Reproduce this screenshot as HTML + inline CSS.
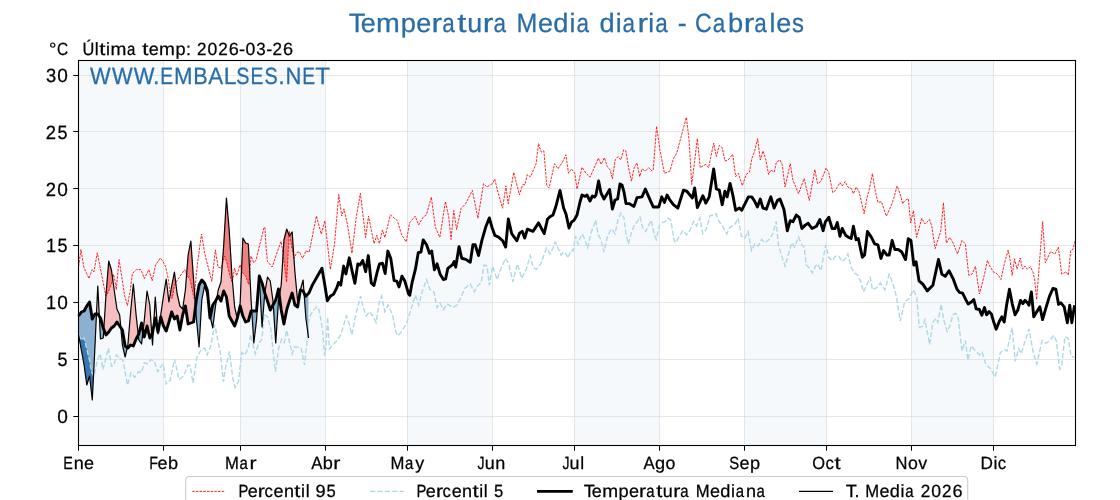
<!DOCTYPE html>
<html><head><meta charset="utf-8"><style>
html,body{margin:0;padding:0;background:#fff;overflow:hidden;}
svg{display:block;font-family:"Liberation Sans",sans-serif;text-rendering:geometricPrecision;will-change:transform;}
</style></head><body>
<svg width="1120" height="500" viewBox="0 0 1120 500">
<rect x="0" y="0" width="1120" height="500" fill="#fff"/>
<rect x="78.50" y="60.5" width="84.94" height="385.00" fill="#f5f9fc"/>
<rect x="240.16" y="60.5" width="84.94" height="385.00" fill="#f5f9fc"/>
<rect x="407.30" y="60.5" width="84.94" height="385.00" fill="#f5f9fc"/>
<rect x="574.44" y="60.5" width="84.94" height="385.00" fill="#f5f9fc"/>
<rect x="744.32" y="60.5" width="82.20" height="385.00" fill="#f5f9fc"/>
<rect x="911.46" y="60.5" width="82.20" height="385.00" fill="#f5f9fc"/>
<line x1="78.5" x2="1075.5" y1="416.5" y2="416.5" stroke="#d3d3d3" stroke-opacity="0.55" stroke-width="1"/>
<line x1="78.5" x2="1075.5" y1="359.5" y2="359.5" stroke="#d3d3d3" stroke-opacity="0.55" stroke-width="1"/>
<line x1="78.5" x2="1075.5" y1="302.5" y2="302.5" stroke="#d3d3d3" stroke-opacity="0.55" stroke-width="1"/>
<line x1="78.5" x2="1075.5" y1="245.5" y2="245.5" stroke="#d3d3d3" stroke-opacity="0.55" stroke-width="1"/>
<line x1="78.5" x2="1075.5" y1="188.5" y2="188.5" stroke="#d3d3d3" stroke-opacity="0.55" stroke-width="1"/>
<line x1="78.5" x2="1075.5" y1="131.5" y2="131.5" stroke="#d3d3d3" stroke-opacity="0.55" stroke-width="1"/>
<line x1="78.5" x2="1075.5" y1="75.5" y2="75.5" stroke="#d3d3d3" stroke-opacity="0.55" stroke-width="1"/>
<line x1="163.5" x2="163.5" y1="60.5" y2="445.5" stroke="#d3d3d3" stroke-opacity="0.55" stroke-width="1"/>
<line x1="240.5" x2="240.5" y1="60.5" y2="445.5" stroke="#d3d3d3" stroke-opacity="0.55" stroke-width="1"/>
<line x1="325.5" x2="325.5" y1="60.5" y2="445.5" stroke="#d3d3d3" stroke-opacity="0.55" stroke-width="1"/>
<line x1="407.5" x2="407.5" y1="60.5" y2="445.5" stroke="#d3d3d3" stroke-opacity="0.55" stroke-width="1"/>
<line x1="492.5" x2="492.5" y1="60.5" y2="445.5" stroke="#d3d3d3" stroke-opacity="0.55" stroke-width="1"/>
<line x1="574.5" x2="574.5" y1="60.5" y2="445.5" stroke="#d3d3d3" stroke-opacity="0.55" stroke-width="1"/>
<line x1="659.5" x2="659.5" y1="60.5" y2="445.5" stroke="#d3d3d3" stroke-opacity="0.55" stroke-width="1"/>
<line x1="744.5" x2="744.5" y1="60.5" y2="445.5" stroke="#d3d3d3" stroke-opacity="0.55" stroke-width="1"/>
<line x1="826.5" x2="826.5" y1="60.5" y2="445.5" stroke="#d3d3d3" stroke-opacity="0.55" stroke-width="1"/>
<line x1="911.5" x2="911.5" y1="60.5" y2="445.5" stroke="#d3d3d3" stroke-opacity="0.55" stroke-width="1"/>
<line x1="993.5" x2="993.5" y1="60.5" y2="445.5" stroke="#d3d3d3" stroke-opacity="0.55" stroke-width="1"/>
<g fill="#286ca8" font-size="23.54" stroke="#286ca8" stroke-width="0.25"><text transform="translate(100.27,83.90) scale(0.931,1)" x="-11.12">W</text><text transform="translate(122.24,83.90) scale(0.931,1)" x="-11.12">W</text><text transform="translate(144.21,83.90) scale(0.931,1)" x="-11.12">W</text><text transform="translate(156.19,83.90) scale(1.000,1)" x="-3.27">.</text><text transform="translate(167.12,83.90) scale(0.818,1)" x="-8.33">E</text><text transform="translate(183.35,83.90) scale(0.944,1)" x="-9.80">M</text><text transform="translate(200.85,83.90) scale(0.917,1)" x="-8.21">B</text><text transform="translate(215.76,83.90) scale(0.951,1)" x="-7.86">A</text><text transform="translate(230.60,83.90) scale(0.976,1)" x="-7.12">L</text><text transform="translate(242.93,83.90) scale(0.842,1)" x="-7.86">S</text><text transform="translate(257.26,83.90) scale(0.818,1)" x="-8.33">E</text><text transform="translate(271.07,83.90) scale(0.842,1)" x="-7.86">S</text><text transform="translate(281.54,83.90) scale(1.000,1)" x="-3.27">.</text><text transform="translate(293.38,83.90) scale(0.935,1)" x="-8.51">N</text><text transform="translate(309.08,83.90) scale(0.818,1)" x="-8.33">E</text><text transform="translate(322.54,83.90) scale(1.031,1)" x="-7.18">T</text></g>
<polygon points="78.60,316.00 81.10,312.35 81.35,312.00 83.85,311.08 84.10,310.96 86.60,306.39 89.35,302.29 89.60,302.30 92.10,317.82 92.35,318.89 94.85,314.32 95.10,314.00 96.35,314.00 96.60,311.11 97.60,289.56 97.85,287.64 99.10,311.84 99.35,316.32 100.35,317.78 100.60,318.35 103.10,327.48 103.35,328.28 103.60,328.92 103.85,328.44 105.85,297.03 106.10,293.50 108.60,262.45 108.85,261.44 111.35,269.66 111.60,271.06 114.10,289.32 116.85,308.44 117.10,309.37 119.60,314.85 119.85,316.99 120.60,325.20 120.85,327.73 122.35,329.92 122.60,331.13 125.10,345.74 125.35,346.15 127.10,347.43 127.35,347.33 127.85,345.14 128.10,342.38 130.60,312.25 133.35,284.08 133.60,286.74 136.10,315.04 138.10,333.30 138.35,334.88 138.85,333.94 141.35,323.89 141.60,323.14 142.85,329.54 143.10,330.61 144.10,321.84 144.35,319.58 146.85,293.10 147.10,291.27 149.60,304.05 149.85,305.94 151.60,331.51 151.85,334.23 152.35,333.32 152.60,332.58 153.35,328.47 153.60,326.13 155.10,299.83 155.35,298.20 157.60,328.60 157.85,331.24 158.10,331.45 159.35,324.60 163.35,296.87 163.60,295.23 166.10,279.70 166.35,280.15 168.85,301.15 169.10,301.13 171.60,286.52 174.35,272.39 174.60,273.39 177.10,293.48 177.35,294.81 179.85,305.77 180.10,306.22 182.60,308.96 182.85,307.55 185.35,290.20 185.60,287.17 188.10,255.21 188.35,253.81 190.85,241.02 191.10,244.50 193.60,280.11 195.35,304.40 195.60,305.87 196.10,301.85 196.35,299.89 198.85,286.20 199.10,284.94 201.60,280.38 201.85,280.05 204.35,282.79 204.60,283.14 207.10,289.54 207.35,290.70 209.10,308.59 209.35,310.86 209.85,314.70 210.10,316.35 210.35,316.43 212.60,305.75 212.85,304.87 215.35,301.21 216.60,298.98 216.85,298.09 218.10,290.78 218.35,289.66 220.85,282.35 221.10,280.26 223.60,246.48 223.85,242.59 226.35,199.67 226.60,199.79 229.10,229.00 229.35,232.71 231.85,273.80 232.10,277.07 234.60,306.29 234.85,307.83 237.10,317.69 237.35,318.14 237.85,316.02 238.10,314.90 240.10,303.22 240.35,297.94 242.85,238.59 243.10,238.41 245.60,242.98 248.35,244.00 250.85,295.12 251.10,300.18 251.60,308.03 251.85,311.00 256.35,311.00 256.60,310.54 259.10,278.58 259.35,276.12 261.85,282.51 262.10,283.22 264.60,292.35 264.85,292.58 267.35,277.97 267.60,277.12 270.10,280.78 270.35,281.70 272.85,299.96 273.10,302.66 273.35,304.35 275.60,300.24 275.85,299.52 278.35,289.47 278.60,290.02 279.35,295.77 281.10,285.62 281.35,282.62 283.85,241.54 284.10,239.37 286.60,229.33 286.85,229.43 289.35,235.82 289.60,235.74 292.10,232.08 292.35,234.82 294.85,271.34 295.10,274.17 297.60,300.65 297.85,300.13 300.35,290.08 303.10,280.03 303.35,283.35 303.85,290.29 304.10,293.12 305.60,296.33 308.35,293.58 308.35,293.58 305.60,296.33 303.35,291.52 303.10,291.00 300.60,290.08 300.35,290.13 297.85,305.65 297.60,306.98 295.10,305.15 294.85,304.80 292.35,293.85 292.10,293.17 289.60,300.47 286.85,309.45 286.60,310.42 284.10,323.20 283.85,323.52 281.35,310.74 281.10,309.19 278.60,290.02 278.35,289.47 275.85,299.52 275.60,300.24 270.35,309.82 270.10,309.49 267.60,301.28 264.85,293.21 262.10,283.22 259.35,276.12 259.10,278.58 256.60,310.54 256.35,311.00 251.10,311.00 248.35,321.00 245.85,321.91 245.60,321.97 243.10,316.49 242.85,315.91 240.35,306.78 240.10,306.16 237.60,317.12 237.35,318.14 234.85,325.45 234.60,325.89 229.35,316.30 229.10,315.41 226.60,298.06 226.35,296.79 223.85,291.31 223.60,291.40 221.10,300.53 220.85,300.78 218.35,296.21 218.10,296.24 215.60,300.81 212.85,304.87 212.60,305.75 210.10,317.62 209.85,316.26 207.35,290.70 207.10,289.54 204.60,283.14 204.35,282.79 201.85,280.05 201.60,280.38 199.10,284.94 198.85,286.20 196.35,299.89 193.60,321.94 188.35,323.91 188.10,323.89 185.60,307.46 185.35,306.09 182.85,314.31 182.60,315.22 180.10,328.92 179.85,329.73 177.35,316.95 177.10,316.07 174.60,318.81 174.35,318.80 171.85,312.41 171.60,312.33 169.10,321.46 166.35,330.55 166.10,330.79 163.60,326.23 163.35,325.59 160.85,317.37 160.60,317.75 158.10,331.45 157.85,331.24 155.35,318.45 155.10,318.89 152.60,332.58 152.35,333.32 149.85,337.88 149.60,337.19 147.10,326.23 146.85,326.79 144.35,336.84 144.10,335.93 141.60,323.14 141.35,323.89 138.85,333.94 136.10,338.99 133.60,345.38 133.35,346.00 130.85,345.08 130.60,345.02 128.10,347.76 127.85,347.98 125.35,346.15 125.10,345.74 122.60,331.13 122.35,329.92 117.10,322.25 116.85,322.12 114.35,325.77 114.10,326.07 111.60,327.89 111.35,328.15 108.85,331.81 106.10,334.87 105.85,334.67 103.35,328.28 103.10,327.48 100.60,318.35 100.35,317.78 97.85,314.12 97.60,314.00 95.10,314.00 94.85,314.32 92.35,318.89 92.10,317.82 89.60,302.30 89.35,302.29 86.85,305.95 84.10,310.96 81.35,312.00 78.60,316.00" fill="#f6bebe" stroke="none"/>
<polygon points="78.60,316.00 81.10,312.35 81.35,312.00 83.85,311.08 84.10,310.96 86.60,306.39 89.35,302.29 89.60,302.30 92.10,317.82 92.35,318.89 94.85,314.32 95.10,314.00 97.60,314.00 97.85,314.12 100.35,317.78 100.60,318.35 103.10,327.48 103.35,328.28 105.85,334.67 106.10,334.87 108.60,332.13 111.35,328.15 114.10,326.07 116.85,322.12 117.10,322.25 122.35,329.92 122.60,331.13 125.10,345.74 125.35,346.15 127.85,347.98 130.60,345.02 133.35,346.00 136.10,338.99 138.60,334.43 138.85,333.94 141.35,323.89 141.60,323.14 144.10,335.93 144.35,336.84 146.85,326.79 147.10,326.23 149.60,337.19 149.85,337.88 152.35,333.32 152.60,332.58 155.10,318.89 155.35,318.45 157.85,331.24 158.10,331.45 160.60,317.75 160.85,317.37 163.35,325.59 163.60,326.23 166.10,330.79 166.35,330.55 168.85,322.33 171.60,312.33 171.85,312.41 174.35,318.80 174.60,318.81 177.10,316.07 177.35,316.95 179.85,329.73 180.10,328.92 182.60,315.22 182.85,314.31 185.35,306.09 185.60,307.46 188.10,323.89 188.35,323.91 193.35,322.09 193.60,321.94 196.10,301.85 196.35,299.89 198.85,286.20 199.10,284.94 201.60,280.38 201.85,280.05 204.35,282.79 204.60,283.14 207.10,289.54 207.35,290.70 209.85,316.26 210.10,317.62 212.60,305.75 212.85,304.87 215.35,301.21 218.10,296.24 218.35,296.21 220.85,300.78 221.10,300.53 223.60,291.40 223.85,291.31 226.35,296.79 226.60,298.06 229.10,315.41 229.35,316.30 234.60,325.89 234.85,325.45 237.35,318.14 240.10,306.16 240.35,306.78 242.85,315.91 245.60,321.97 248.35,321.00 250.85,311.87 251.10,311.00 256.35,311.00 256.60,310.54 259.10,278.58 259.35,276.12 261.85,282.51 262.10,283.22 264.60,292.35 264.85,293.21 267.35,300.52 270.10,309.49 270.35,309.82 275.60,300.24 275.85,299.52 278.35,289.47 278.60,290.02 281.10,309.19 281.35,310.74 283.85,323.52 284.10,323.20 286.60,310.42 286.85,309.45 289.35,301.23 292.10,293.17 292.35,293.85 294.85,304.80 295.10,305.15 297.60,306.98 297.85,305.65 300.35,290.13 300.60,290.08 303.10,291.00 305.60,296.33 308.35,293.58 308.35,336.29 305.85,318.02 304.10,293.76 303.85,292.58 303.10,291.00 300.60,290.08 300.35,290.13 297.85,305.65 297.60,306.98 295.10,305.15 294.85,304.80 292.35,293.85 292.10,293.17 289.60,300.47 286.85,309.45 286.60,310.42 284.10,323.20 283.85,323.52 281.35,310.74 281.10,309.19 279.60,297.69 279.35,295.84 278.60,300.23 278.35,302.80 275.85,341.15 275.60,341.01 273.35,306.50 273.10,304.80 270.35,309.82 270.10,309.49 267.60,301.28 264.85,293.21 264.60,295.21 262.10,326.26 261.85,323.60 259.35,278.86 259.10,281.10 256.60,319.45 256.35,321.80 253.85,342.80 253.60,339.44 251.85,311.96 251.60,311.00 251.10,311.00 248.35,321.00 245.85,321.91 245.60,321.97 243.10,316.49 242.85,315.91 240.35,306.78 240.10,306.16 238.10,314.93 237.60,317.82 237.35,318.79 237.10,318.87 234.85,325.45 234.60,325.89 229.35,316.30 229.10,315.41 226.60,298.06 226.35,296.79 223.85,291.31 223.60,291.40 221.10,300.53 220.85,300.78 218.35,296.21 218.10,296.24 216.85,298.53 216.60,299.55 215.60,305.39 215.35,307.17 212.85,327.26 212.60,327.31 210.35,317.45 210.10,317.62 209.85,316.26 209.35,311.15 209.10,308.95 207.35,295.52 207.10,294.40 204.60,286.18 204.35,286.99 201.85,299.78 201.60,303.54 199.10,346.45 198.85,344.69 196.35,318.21 195.60,307.87 195.35,307.88 193.60,321.94 188.35,323.91 188.10,323.89 185.60,307.46 185.35,306.09 182.85,314.31 182.60,315.22 180.10,328.92 179.85,329.73 177.35,316.95 177.10,316.07 174.60,318.81 174.35,318.80 171.85,312.41 171.60,312.33 169.10,321.46 166.35,330.55 166.10,330.79 163.60,326.23 163.35,325.59 160.85,317.37 160.60,317.75 159.60,323.23 159.35,324.63 158.10,333.30 157.85,331.98 157.60,329.96 155.35,318.45 155.10,318.89 153.60,327.10 153.35,330.51 152.60,343.66 152.35,342.46 151.85,335.16 151.60,334.69 149.85,337.88 149.60,337.19 147.10,326.23 146.85,326.79 144.35,336.84 144.10,335.93 143.10,330.81 142.85,332.80 141.60,343.75 141.35,343.68 138.85,340.02 138.60,337.86 138.35,335.58 138.10,335.34 136.10,338.99 133.60,345.38 133.35,346.00 130.85,345.08 130.60,345.02 128.10,347.76 127.85,347.98 127.35,347.61 127.10,348.43 125.35,356.10 125.10,356.80 122.60,345.85 122.35,344.38 120.85,327.94 120.60,327.36 117.10,322.25 116.85,322.12 114.35,325.77 114.10,326.07 111.60,327.89 111.35,328.15 108.85,331.81 106.10,334.87 105.85,334.67 103.85,329.56 103.60,332.37 103.35,336.29 103.10,338.05 100.60,338.96 100.35,336.03 99.35,316.67 99.10,315.95 97.85,314.12 97.60,314.00 96.60,314.00 96.35,316.50 95.10,343.44 94.85,348.57 92.35,398.79 92.10,398.34 89.60,376.42 89.35,376.66 86.85,384.88 86.60,383.44 84.10,365.18 78.60,335.00" fill="#8cb0d0" stroke="none"/>
<polygon points="78.60,266.25 78.85,265.03 80.85,250.03 81.10,250.50 83.60,265.89 83.85,267.39 88.85,278.26 89.10,278.26 92.10,269.69 92.35,269.88 93.85,271.76 94.10,270.83 97.10,253.83 97.35,253.09 105.60,294.98 105.85,295.86 106.10,293.50 108.60,262.45 108.85,261.44 111.35,269.66 111.60,271.06 112.60,278.36 112.85,277.74 113.35,274.99 113.60,274.79 114.85,280.42 116.10,288.48 116.35,288.89 118.85,262.02 119.10,259.73 124.60,295.48 124.85,296.57 127.35,305.32 127.60,305.01 130.10,291.26 130.35,289.68 132.35,273.68 132.60,273.33 135.85,270.08 136.35,269.71 136.60,269.61 140.85,269.61 141.10,269.97 144.10,277.97 144.35,278.52 148.60,270.02 148.85,269.76 152.10,280.59 152.35,279.94 155.35,265.94 155.60,265.01 160.10,258.35 160.35,258.05 162.85,261.39 163.10,261.77 165.60,266.77 165.85,267.59 168.35,279.25 168.60,280.98 170.10,292.98 170.35,293.83 171.60,286.52 174.35,272.39 174.60,273.39 175.60,281.43 175.85,282.82 176.60,281.35 180.10,276.10 184.60,269.80 184.85,270.20 186.60,274.28 186.85,271.19 188.10,255.21 188.35,253.81 190.85,241.02 191.10,244.50 193.60,280.11 194.60,293.99 194.85,291.97 196.10,276.00 198.10,259.06 198.35,257.11 201.35,235.11 201.60,234.60 204.60,252.60 204.85,254.00 208.10,267.00 211.60,280.39 211.85,281.23 215.35,249.95 215.60,251.39 217.85,266.02 218.10,267.04 221.10,268.04 221.35,267.93 222.10,265.18 222.35,263.37 223.60,246.48 223.85,242.59 226.35,199.67 226.60,199.79 229.10,229.00 229.35,232.71 231.85,273.80 232.10,277.07 232.35,279.99 232.60,280.48 234.35,269.11 234.60,268.44 236.60,275.44 236.85,275.32 239.85,265.32 240.10,265.14 241.35,269.52 241.60,268.26 242.85,238.59 243.10,238.41 245.60,242.98 248.35,244.00 249.60,269.56 249.85,271.03 250.85,258.03 251.10,256.24 253.60,262.49 253.85,262.42 255.85,260.60 256.10,260.25 257.35,254.40 264.10,227.33 264.35,227.21 264.85,227.66 265.10,229.80 265.60,239.80 265.85,244.35 267.35,260.85 267.60,261.63 272.10,266.88 272.35,266.55 276.10,255.30 280.85,241.82 281.10,241.95 282.60,250.20 282.85,252.20 283.10,253.86 283.85,241.54 284.10,239.37 286.60,229.33 286.85,229.43 288.85,234.54 289.10,235.14 289.35,231.21 289.85,234.67 290.10,235.01 292.10,232.08 292.35,234.82 293.85,256.73 294.10,257.67 296.85,252.86 297.10,252.57 299.35,251.82 299.60,252.20 302.60,258.20 304.85,253.70 305.10,252.98 305.60,250.90 308.35,251.76 308.35,251.76 305.85,250.93 305.60,250.90 305.10,252.98 304.85,253.70 302.60,258.20 299.60,252.20 299.35,251.82 297.10,252.57 296.85,252.86 293.85,258.11 293.60,257.13 291.60,246.47 291.35,245.05 289.35,231.21 289.10,235.14 286.60,282.20 282.60,250.20 281.10,241.95 280.85,241.82 276.35,254.57 272.35,266.55 272.10,266.88 267.60,261.63 267.35,260.85 265.85,244.35 265.60,239.80 265.10,229.80 264.85,227.66 264.35,227.21 264.10,227.33 257.60,253.33 257.35,254.40 256.10,260.25 255.85,260.60 253.85,262.42 253.60,262.49 251.10,256.24 250.85,258.03 248.85,284.03 248.60,284.06 245.60,276.06 245.35,275.65 242.35,272.65 242.10,272.14 240.10,265.14 239.85,265.32 236.85,275.32 236.60,275.44 234.60,268.44 234.35,269.11 232.35,282.11 232.10,281.90 230.10,276.89 226.85,262.81 224.85,256.75 224.60,256.02 221.35,267.93 221.10,268.04 218.10,267.04 217.85,266.02 215.60,251.39 215.35,249.95 211.85,281.23 211.60,280.39 208.10,267.00 204.85,254.00 204.60,252.60 201.60,234.60 201.35,235.11 198.35,257.11 198.10,259.06 196.10,276.00 194.35,298.36 194.10,298.18 192.60,292.00 190.10,279.86 189.85,279.37 187.35,276.03 184.85,270.20 184.60,269.80 180.10,276.10 176.60,281.35 174.85,284.82 174.60,285.74 172.10,298.24 171.85,298.09 170.35,294.34 170.10,292.98 168.60,280.98 168.35,279.25 165.85,267.59 165.60,266.77 163.10,261.77 160.35,258.05 155.60,265.01 155.35,265.94 152.35,279.94 152.10,280.59 148.85,269.76 148.60,270.02 144.35,278.52 144.10,277.97 141.10,269.97 140.85,269.61 136.60,269.61 136.35,269.71 135.85,270.08 132.60,273.33 132.35,273.68 130.35,289.68 130.10,291.26 127.60,305.01 127.35,305.32 124.85,296.57 124.60,295.48 119.10,259.73 118.85,262.02 116.35,288.89 116.10,288.48 115.10,281.98 114.85,280.42 113.60,274.79 113.35,274.99 112.10,281.87 108.10,292.58 107.85,293.20 105.85,295.86 105.60,294.98 97.60,254.31 97.35,253.09 97.10,253.83 94.10,270.83 93.85,271.76 92.35,269.88 92.10,269.69 89.10,278.26 88.85,278.26 83.85,267.39 81.10,250.50 80.85,250.03 78.85,265.03 78.60,266.25" fill="#ee8080" stroke="none"/>
<polygon points="78.60,334.50 81.10,339.59 81.35,339.97 84.10,338.07 84.35,338.64 86.85,349.36 89.35,359.40 89.60,360.57 91.60,372.00 93.85,376.11 94.10,375.27 97.10,361.33 97.35,360.33 100.10,353.98 100.35,354.68 102.85,369.26 103.10,368.63 105.60,359.25 108.35,348.67 108.60,348.89 111.35,365.81 111.60,366.00 113.85,365.06 114.10,364.89 116.10,355.89 116.35,354.91 119.60,358.16 122.85,360.36 123.10,360.80 127.35,384.17 127.60,384.84 130.85,372.93 131.10,373.06 134.60,377.18 134.85,377.07 138.60,371.86 138.85,371.74 141.35,372.78 141.60,372.15 144.10,363.50 144.35,362.73 147.10,363.79 147.35,363.71 150.85,359.59 151.10,359.40 154.35,361.57 154.60,362.19 157.60,371.19 157.85,371.54 161.10,366.13 163.35,363.86 163.60,365.60 165.85,382.48 166.10,383.97 169.85,380.84 170.10,380.58 174.35,360.39 174.60,359.52 178.85,378.64 179.10,379.49 183.35,376.30 183.60,375.98 187.85,365.36 188.10,365.01 190.10,366.01 190.35,366.73 192.85,382.35 193.10,381.83 196.85,357.88 197.10,356.89 201.35,349.45 201.60,349.23 204.60,348.23 204.85,348.29 206.85,354.29 207.10,354.76 210.35,347.18 210.60,346.09 214.85,324.84 215.10,325.79 217.35,337.97 217.60,339.32 220.35,353.07 220.60,354.83 223.35,381.27 223.60,380.47 225.60,367.47 225.85,366.35 229.35,351.93 229.60,352.72 232.60,376.72 232.85,378.56 234.85,386.56 235.10,387.28 238.35,381.87 238.60,380.12 241.60,354.12 241.85,352.70 245.10,354.86 245.35,354.37 248.35,347.37 248.60,346.44 250.60,335.44 250.85,335.23 255.10,353.29 255.35,353.35 258.35,344.35 258.60,343.65 261.85,339.31 262.10,337.35 264.10,315.35 264.35,314.68 267.35,316.68 267.60,317.05 270.85,328.97 271.10,331.20 273.10,351.20 275.35,371.48 275.60,370.09 278.60,349.09 278.85,347.80 281.60,339.34 281.85,339.46 284.10,342.27 284.35,342.47 286.35,331.47 286.60,330.35 289.85,343.35 292.10,353.43 292.35,353.23 294.35,347.23 294.60,347.04 297.60,347.04 301.10,348.15 301.35,349.24 304.35,364.24 304.60,363.96 306.60,344.96 306.85,342.36 308.35,325.11 308.35,336.29 307.85,332.63 307.60,333.73 306.85,342.36 306.60,344.96 304.60,363.96 304.35,364.24 301.35,349.24 301.10,348.15 297.85,347.07 294.60,347.04 294.35,347.23 292.35,353.23 292.10,353.43 290.10,344.43 289.85,343.35 286.60,330.35 286.35,331.47 284.35,342.47 284.10,342.27 281.85,339.46 281.60,339.34 278.85,347.80 278.60,349.09 275.60,370.09 275.35,371.48 273.35,353.48 273.10,351.20 271.10,331.20 270.85,328.97 267.60,317.05 267.35,316.68 264.35,314.68 264.10,315.35 262.10,337.35 261.85,339.31 258.60,343.65 255.35,353.35 255.10,353.29 250.85,335.23 250.60,335.44 248.60,346.44 248.35,347.37 245.35,354.37 245.10,354.86 241.85,352.70 241.60,354.12 238.60,380.12 238.35,381.87 235.10,387.28 234.85,386.56 232.85,378.56 232.60,376.72 229.60,352.72 229.35,351.93 225.85,366.35 225.60,367.47 223.60,380.47 223.35,381.27 220.60,354.83 220.35,353.07 217.60,339.32 215.10,325.79 214.85,324.84 210.60,346.09 210.35,347.18 207.10,354.76 206.85,354.29 204.85,348.29 204.60,348.23 201.60,349.23 201.35,349.45 197.10,356.89 196.85,357.88 193.10,381.83 192.85,382.35 190.35,366.73 190.10,366.01 188.10,365.01 187.85,365.36 183.60,375.98 183.35,376.30 179.10,379.49 178.85,378.64 174.60,359.52 174.35,360.39 170.10,380.58 166.10,383.97 165.85,382.48 163.60,365.60 163.35,363.86 161.35,365.86 161.10,366.13 157.85,371.54 157.60,371.19 154.60,362.19 154.35,361.57 151.10,359.40 150.85,359.59 147.35,363.71 147.10,363.79 144.35,362.73 144.10,363.50 141.60,372.15 141.35,372.78 138.85,371.74 138.60,371.86 134.85,377.07 134.60,377.18 131.10,373.06 130.85,372.93 127.60,384.84 127.35,384.17 123.10,360.80 122.85,360.36 119.85,358.36 116.35,354.91 116.10,355.89 114.10,364.89 111.60,366.00 111.35,365.81 108.60,348.89 108.35,348.67 105.60,359.25 103.10,368.63 102.85,369.26 100.35,354.68 100.10,353.98 97.35,360.33 97.10,361.33 94.10,375.27 93.85,376.11 93.60,375.65 93.35,378.70 92.35,398.79 92.10,398.34 89.60,376.42 89.35,376.66 86.85,384.88 86.60,383.44 84.10,365.18 78.60,335.00" fill="#3878b2" stroke="none"/>
<polyline points="78.60,334.50 81.30,340.00 84.20,338.00 87.00,350.00 89.50,360.00 91.60,372.00 93.90,376.20 97.28,360.48 100.19,353.76 102.88,369.44 105.57,359.36 108.48,348.16 111.39,366.08 114.08,364.96 116.32,354.88 119.68,358.24 123.04,360.48 127.52,385.13 130.88,372.80 134.69,377.28 138.72,371.68 141.41,372.80 144.32,362.72 147.24,363.84 151.04,359.36 154.41,361.60 157.77,371.68 161.13,366.08 163.37,363.84 166.05,384.01 170.09,380.65 174.57,359.36 179.05,379.53 183.53,376.16 188.01,364.96 190.25,366.08 192.94,382.89 196.97,357.12 201.45,349.28 204.81,348.16 207.05,354.88 210.41,347.04 214.89,324.64 217.58,339.20 220.49,353.76 223.40,381.77 225.64,367.20 229.45,351.52 232.81,378.41 235.05,387.37 238.41,381.77 241.77,352.64 245.13,354.88 248.49,347.04 250.73,334.72 255.21,353.76 258.57,343.68 261.93,339.20 264.17,314.56 267.53,316.80 270.89,329.12 273.13,351.52 275.37,371.68 278.73,348.16 281.65,339.20 284.33,342.56 286.57,330.24 289.93,343.68 292.17,353.76 294.41,347.04 297.77,347.04 301.13,348.16 304.49,364.96 306.73,343.68 308.97,317.92 313.46,310.08 316.82,306.72 319.06,310.08 322.42,329.12 324.66,356.00 326.00,347.04 327.61,317.06 329.38,348.99 332.02,345.69 336.42,341.28 340.83,334.68 346.33,315.96 349.19,323.67 351.83,334.68 356.24,312.66 360.64,296.15 362.84,306.06 366.15,315.96 369.45,311.56 372.75,315.96 376.06,322.57 379.36,301.65 381.56,296.15 384.86,311.56 388.17,304.95 392.57,314.86 395.87,332.48 398.07,335.78 402.48,330.28 406.88,322.57 410.89,309.77 415.37,295.21 418.73,305.29 422.09,291.85 426.57,279.53 429.93,289.61 433.96,291.85 437.10,307.53 440.01,303.05 443.37,309.77 446.73,304.17 449.64,305.29 452.33,307.53 456.81,305.29 460.84,297.45 464.65,288.49 470.25,284.01 474.28,291.85 478.09,285.13 481.00,282.89 484.14,264.96 487.05,266.08 489.29,285.13 492.65,266.08 497.13,279.53 500.49,269.44 505.65,258.24 508.78,263.84 512.81,281.77 517.29,263.84 521.77,278.41 526.25,269.44 530.29,255.56 532.97,267.20 536.34,269.44 540.82,263.84 546.42,248.16 550.00,253.76 553.00,248.00 555.00,242.00 558.00,248.00 561.00,255.00 563.60,252.00 566.00,254.00 568.00,258.00 571.00,250.00 573.00,251.00 575.60,236.00 578.00,244.00 580.00,238.00 582.40,234.00 585.00,240.00 587.60,248.00 591.00,233.00 593.60,226.00 595.60,220.00 598.00,234.00 601.00,240.00 604.00,252.00 607.00,238.00 610.00,231.00 612.00,229.00 615.00,234.00 618.00,220.00 621.00,213.00 624.00,218.00 626.00,234.00 628.40,244.00 631.00,234.00 634.00,226.00 637.00,222.00 640.00,217.00 642.84,228.16 645.75,231.52 648.89,224.80 651.13,220.32 654.04,233.76 656.28,239.36 659.64,224.80 662.33,222.56 665.24,221.44 668.15,218.08 670.84,220.32 674.20,240.48 675.77,242.72 678.68,237.12 683.16,230.40 686.52,234.88 689.88,230.40 693.69,221.44 696.60,225.92 699.96,218.08 702.65,233.76 706.24,229.28 710.04,215.84 713.41,214.72 716.09,213.60 719.01,221.44 722.37,225.92 726.85,233.76 730.21,227.04 734.69,224.80 738.05,218.08 741.41,236.00 744.77,238.24 748.13,231.52 751.49,250.56 754.85,243.84 758.21,246.08 761.57,239.36 764.93,242.72 769.41,239.36 772.77,233.76 776.13,221.44 778.37,244.96 781.73,256.16 785.09,266.25 788.45,253.92 791.81,242.72 794.50,247.20 798.53,237.12 801.89,244.96 804.13,247.20 806.37,265.13 809.73,268.49 812.42,272.97 815.33,266.25 817.57,264.01 820.93,270.73 823.17,258.41 825.86,244.96 828.77,257.28 832.13,260.65 835.49,256.16 838.85,256.16 842.21,261.77 845.57,258.41 847.81,253.92 851.17,267.37 854.53,272.97 857.89,275.21 861.25,283.05 863.49,292.01 870.22,277.45 872.46,289.77 876.94,287.53 880.30,283.05 885.00,289.77 889.13,274.30 892.51,282.10 896.41,296.41 900.31,321.11 904.73,301.61 908.89,299.01 913.31,289.91 916.69,296.41 919.29,327.61 922.41,326.31 925.01,319.81 929.69,344.52 932.81,322.41 935.93,318.51 938.01,322.41 941.13,304.21 943.74,319.81 947.12,331.51 949.72,326.31 953.10,314.61 955.70,313.31 958.30,318.51 961.94,351.02 965.32,340.61 967.92,360.12 971.30,345.82 975.72,351.02 979.62,354.92 982.22,352.32 986.12,365.32 990.02,367.92 995.22,377.02 1000.43,352.32 1004.33,349.72 1006.93,351.02 1012.13,327.61 1015.25,361.42 1018.63,348.42 1021.23,353.62 1024.35,343.22 1029.03,328.91 1032.93,351.02 1036.83,364.02 1042.03,340.61 1045.93,343.22 1049.83,340.61 1053.74,335.41 1056.34,340.61 1059.72,369.22 1061.54,366.62 1064.92,336.71 1068.04,338.01 1071.16,356.22 1074.54,357.52" fill="none" stroke="#add8e6" stroke-width="1.39" stroke-dasharray="5.14,2.22"/>
<polyline points="78.69,266.25 80.93,249.44 83.84,267.37 88.99,278.57 92.13,269.61 93.92,271.85 97.28,252.80 97.40,253.29 105.79,295.94 107.89,293.15 109.99,287.55 112.08,281.96 113.48,274.27 114.88,280.56 116.28,289.65 119.08,259.58 121.87,277.76 124.67,295.94 127.47,305.73 130.27,290.35 132.36,273.57 135.86,270.07 136.48,269.61 140.96,269.61 144.32,278.57 148.80,269.61 152.16,280.81 155.53,265.13 160.32,258.02 163.03,261.62 165.73,267.03 168.43,279.64 170.23,294.05 172.04,298.56 174.74,285.05 176.54,281.44 180.14,276.04 184.65,269.73 187.35,276.04 190.05,279.64 192.60,292.00 194.30,299.00 196.10,276.00 198.20,258.21 201.50,234.00 204.80,253.81 208.10,267.01 211.84,281.31 215.36,249.85 218.00,267.01 221.30,268.11 224.60,256.01 226.80,262.61 230.10,276.91 232.30,282.41 234.50,268.11 236.70,275.81 240.00,264.81 242.20,272.51 245.50,275.81 248.81,284.61 251.01,256.01 253.65,262.61 256.07,260.41 257.45,253.92 264.17,227.04 265.00,227.80 265.80,243.80 267.40,261.40 272.20,267.00 276.20,255.00 281.00,241.40 282.60,250.20 286.60,282.20 289.32,231.00 291.40,245.40 293.80,258.20 297.00,252.60 299.40,251.80 302.60,258.20 305.00,253.40 305.61,250.85 309.21,252.05 316.42,216.03 321.22,234.04 324.83,220.83 330.35,269.34 334.43,244.85 338.76,194.41 341.64,216.03 344.04,208.82 347.64,225.63 351.97,253.25 356.05,218.43 360.37,193.21 365.66,237.64 368.54,216.03 374.06,243.65 376.94,235.24 379.34,243.65 382.47,229.96 384.87,237.64 390.39,214.83 397.28,220.56 401.77,235.13 406.25,241.85 409.61,222.80 415.21,216.08 418.57,225.04 423.05,217.20 426.41,214.96 431.34,197.04 435.37,227.28 439.85,237.37 445.45,201.52 448.81,217.20 451.05,239.61 453.74,210.48 456.65,229.53 461.13,208.24 465.61,203.76 472.33,190.32 477.93,218.32 483.53,183.60 486.89,186.96 492.49,183.60 494.73,179.12 498.09,192.56 502.57,208.24 505.93,185.84 508.17,203.76 513.77,172.40 519.37,194.80 522.73,184.72 524.97,184.72 527.21,174.64 530.57,176.88 536.17,163.44 538.51,143.53 541.20,152.04 543.89,150.92 546.80,185.65 549.04,187.89 554.64,163.69 558.00,168.84 562.48,162.12 565.84,154.73 568.53,173.32 571.44,168.84 574.80,173.32 577.04,189.01 581.97,167.28 586.00,173.32 590.04,177.13 593.84,168.84 598.32,158.09 601.24,164.36 604.37,157.64 607.28,166.60 610.20,169.96 612.44,178.92 615.13,159.88 618.04,156.52 620.73,159.88 623.64,149.80 625.88,150.92 628.57,167.72 631.48,181.16 634.17,167.72 636.85,162.80 639.77,176.68 642.01,168.84 645.37,171.08 648.73,167.72 652.09,171.08 653.21,169.96 656.57,126.28 659.93,149.80 664.41,173.32 670.01,171.08 673.37,158.76 676.73,153.16 681.21,136.36 686.36,117.32 689.05,139.72 691.74,184.53 697.34,138.60 700.25,167.72 703.61,165.48 705.85,164.36 708.54,167.72 713.69,143.08 716.38,156.52 719.29,145.32 722.20,147.56 724.89,161.00 728.25,159.88 732.73,154.28 735.65,176.68 738.33,173.32 742.37,185.65 746.17,174.44 749.53,172.20 751.77,158.76 754.69,150.92 757.60,138.60 760.29,159.88 762.97,150.92 765.66,158.76 768.58,174.44 770.82,169.96 774.18,172.20 776.42,162.12 780.00,159.88 782.17,164.64 785.08,187.04 790.23,163.52 792.92,180.32 798.52,193.76 804.12,178.53 809.27,200.48 814.87,169.57 817.56,183.68 820.92,181.44 826.08,168.00 828.76,172.48 832.80,192.64 835.48,190.40 839.96,182.56 842.20,185.92 845.12,181.44 847.80,187.04 851.16,188.16 853.41,193.76 856.09,187.04 859.01,191.52 864.16,213.92 866.85,198.24 869.53,188.16 872.45,173.60 875.36,191.52 878.05,202.72 881.41,201.60 886.34,216.16 891.49,204.96 893.73,198.24 897.09,185.92 900.45,194.88 902.69,203.84 904.93,200.48 908.29,198.69 910.75,222.89 913.44,210.56 916.58,237.45 921.73,218.41 925.09,224.01 929.57,219.53 931.81,226.25 935.17,248.65 940.77,230.73 943.46,202.72 946.37,243.05 949.73,237.45 953.09,243.05 957.53,253.92 962.01,240.48 965.37,243.84 968.73,275.21 972.09,274.09 975.45,266.25 979.39,293.99 981.79,285.19 984.18,275.59 987.38,260.40 989.78,266.00 993.78,272.39 996.18,273.19 998.58,275.59 1000.98,279.59 1004.18,264.40 1008.18,250.00 1009.78,258.00 1012.18,275.59 1014.58,258.80 1016.98,269.20 1020.18,258.00 1022.57,269.20 1024.97,266.00 1027.37,269.20 1030.57,266.80 1032.97,272.39 1034.57,278.79 1036.65,299.59 1038.57,273.99 1042.65,221.44 1045.34,262.89 1050.49,251.68 1054.97,253.92 1058.33,247.20 1061.69,274.09 1066.17,271.85 1068.41,275.21 1070.65,250.56 1072.89,249.44 1075.13,240.48" fill="none" stroke="#ff0000" stroke-width="0.85" stroke-dasharray="2.57,1.11"/>
<polyline points="78.60,335.00 81.34,350.00 84.08,365.00 86.81,385.00 89.55,376.00 92.29,400.00 95.03,345.00 97.77,286.00 100.50,339.00 103.24,338.00 105.98,295.00 108.72,261.00 111.45,270.00 114.19,290.00 116.93,309.00 119.67,315.00 122.41,345.00 125.14,357.00 127.88,345.00 130.62,312.00 133.36,284.00 136.10,315.00 138.83,340.00 141.57,344.00 144.31,320.00 147.05,291.00 149.79,305.00 152.52,345.00 155.26,297.00 158.00,334.00 160.74,315.00 163.48,296.00 166.21,279.00 168.95,302.00 171.69,286.00 174.43,272.00 177.16,294.00 179.90,306.00 182.64,309.00 185.38,290.00 188.12,255.00 190.85,241.00 193.59,280.00 196.33,318.00 199.07,347.00 201.81,300.00 204.54,286.00 207.28,295.00 210.02,316.00 212.76,328.00 215.50,306.00 218.23,290.00 220.97,282.00 223.71,245.00 226.45,198.00 229.19,230.00 231.92,275.00 234.66,307.00 237.40,319.00 240.14,303.00 242.87,238.00 245.61,243.00 248.35,244.00 251.09,300.00 253.83,343.00 256.56,320.00 259.30,278.00 262.04,327.00 264.78,293.00 267.52,277.00 270.25,281.00 272.99,301.00 275.73,343.00 278.47,301.00 281.21,285.00 283.94,240.00 286.68,229.00 289.42,236.00 292.16,232.00 294.90,272.00 297.63,301.00 300.37,290.00 303.11,280.00 305.85,318.00 308.58,338.00" fill="none" stroke="#000" stroke-width="1.2" stroke-linejoin="round"/>
<polyline points="78.60,316.00 81.34,312.00 84.08,311.00 86.81,306.00 89.55,302.00 92.29,319.00 95.03,314.00 97.77,314.00 100.50,318.00 103.24,328.00 105.98,335.00 108.72,332.00 111.45,328.00 114.19,326.00 116.93,322.00 119.67,326.00 122.41,330.00 125.14,346.00 127.88,348.00 130.62,345.00 133.36,346.00 136.10,339.00 138.83,334.00 141.57,323.00 144.31,337.00 147.05,326.00 149.79,338.00 152.52,333.00 155.26,318.00 158.00,332.00 160.74,317.00 163.48,326.00 166.21,331.00 168.95,322.00 171.69,312.00 174.43,319.00 177.16,316.00 179.90,330.00 182.64,315.00 185.38,306.00 188.12,324.00 190.85,323.00 193.59,322.00 196.33,300.00 199.07,285.00 201.81,280.00 204.54,283.00 207.28,290.00 210.02,318.00 212.76,305.00 215.50,301.00 218.23,296.00 220.97,301.00 223.71,291.00 226.45,297.00 229.19,316.00 231.92,321.00 234.66,326.00 237.40,318.00 240.14,306.00 242.87,316.00 245.61,322.00 248.35,321.00 251.09,311.00 253.83,311.00 256.56,311.00 259.30,276.00 262.04,283.00 264.78,293.00 267.52,301.00 270.25,310.00 272.99,305.00 275.73,300.00 278.47,289.00 281.21,310.00 283.94,324.00 286.68,310.00 289.42,301.00 292.16,293.00 294.90,305.00 297.63,307.00 300.37,290.00 303.11,291.00 305.60,296.33 308.96,292.97 312.32,285.13 316.80,277.28 321.95,268.32 324.64,284.01 327.33,300.81 330.24,296.33 333.60,294.09 336.96,287.37 338.53,282.44 340.77,285.13 343.68,266.08 345.92,273.92 349.28,257.80 351.97,270.56 354.88,283.33 357.80,263.84 360.04,264.96 362.72,260.48 365.64,271.68 368.32,255.56 371.24,282.89 373.92,285.57 377.28,271.68 379.53,263.84 382.44,263.17 385.13,273.48 387.81,251.08 390.73,258.24 394.09,280.65 396.77,281.09 399.01,286.92 401.93,276.16 404.84,281.09 408.65,294.09 409.77,295.21 412.01,282.89 415.37,269.44 418.28,252.64 420.97,251.97 423.21,239.87 426.57,244.80 429.48,253.32 431.72,251.08 434.41,269.89 437.10,263.84 440.01,273.92 443.37,279.53 445.61,278.85 447.85,268.32 452.33,264.96 454.12,261.60 455.69,267.20 459.05,246.59 461.74,258.24 465.77,259.36 470.25,262.28 472.94,244.80 475.18,244.80 478.54,255.56 481.90,240.32 485.93,226.43 489.29,217.92 492.20,228.00 494.89,235.39 498.25,236.96 502.73,240.77 505.65,247.04 508.33,219.04 511.69,233.60 516.85,240.77 519.53,233.15 522.22,231.36 524.69,238.08 527.37,229.12 532.97,231.36 538.58,222.85 544.18,233.60 547.54,219.04 550.00,216.80 553.00,215.00 556.00,206.00 560.00,190.40 563.60,208.00 566.00,214.00 569.00,228.00 571.60,222.00 574.00,220.40 577.00,215.00 580.00,202.00 582.00,195.00 585.00,196.40 587.00,195.00 590.00,201.00 592.40,196.00 594.40,197.00 596.00,195.00 598.60,181.00 601.00,193.00 604.00,199.00 607.00,194.00 609.60,189.60 612.40,209.00 615.00,200.00 617.60,199.00 620.00,184.00 622.00,185.00 624.00,192.00 626.00,203.60 629.00,203.60 634.00,206.40 637.00,197.60 642.01,196.85 645.37,189.01 648.73,196.85 653.21,206.93 658.81,206.93 661.72,196.85 664.41,202.45 667.10,195.05 670.01,200.21 673.37,204.69 677.85,208.05 683.45,190.13 686.81,191.25 692.41,197.97 694.65,187.89 697.34,207.60 700.25,201.33 702.94,195.73 705.85,203.12 709.21,196.85 713.69,168.84 716.38,189.01 719.29,190.13 722.20,204.69 724.89,191.25 727.13,196.85 730.04,183.41 732.73,194.61 735.65,210.29 739.45,208.05 741.69,210.29 745.05,203.57 748.41,196.85 751.77,196.85 754.69,201.33 757.37,206.93 760.29,199.09 762.97,208.05 766.34,209.17 770.82,196.85 774.18,208.05 777.54,200.21 780.00,199.09 783.96,209.44 787.32,230.73 790.23,220.65 792.92,221.77 796.28,215.04 799.19,217.28 801.88,228.49 805.24,225.13 808.15,223.33 811.96,228.49 816.44,226.25 819.80,219.53 823.16,230.73 825.40,221.77 828.76,217.28 832.12,228.49 835.04,228.49 837.28,222.44 839.96,236.33 842.20,228.49 845.56,235.21 848.92,237.45 851.16,238.57 853.41,226.25 856.09,239.69 858.33,238.57 862.32,257.28 864.56,255.04 867.47,231.52 871.28,237.12 874.64,243.84 878.00,244.96 880.91,258.41 883.60,250.56 886.96,255.04 889.20,255.04 892.11,240.48 894.80,249.44 898.16,249.44 901.52,251.68 905.56,259.53 908.24,238.69 910.93,240.48 913.84,265.13 916.08,261.77 919.00,280.81 922.80,284.17 927.28,290.89 932.89,285.29 938.49,259.53 941.85,274.09 945.21,276.33 949.01,270.73 953.05,278.57 956.99,289.19 959.39,292.39 962.59,293.19 965.79,299.59 968.19,304.07 971.39,301.99 973.79,299.59 976.19,308.86 979.39,309.50 981.79,315.26 984.50,307.59 986.58,314.78 988.98,311.58 991.38,313.98 993.46,321.18 996.18,329.18 999.38,321.18 1001.78,316.86 1004.18,321.98 1006.58,305.19 1009.46,289.19 1012.18,303.59 1015.06,314.78 1017.78,309.98 1020.50,300.39 1022.89,303.59 1024.97,300.39 1027.37,302.79 1028.97,305.19 1031.37,291.91 1033.77,316.86 1036.97,311.58 1039.85,306.79 1042.57,319.58 1045.77,308.38 1049.45,296.39 1052.97,288.39 1055.85,289.19 1058.57,304.39 1060.96,302.79 1064.16,306.79 1067.36,322.78 1069.76,305.19 1071.84,322.78 1074.56,305.19" fill="none" stroke="#000" stroke-width="2.9" stroke-linejoin="round"/>
<rect x="78.5" y="60.5" width="997.0" height="385.0" fill="none" stroke="#000" stroke-width="1.1"/>
<line x1="73.3" x2="78.5" y1="416.5" y2="416.5" stroke="#000" stroke-width="1"/>
<g fill="#000" font-size="19.14" stroke="#000" stroke-width="0.25"><text transform="translate(62.64,423.00) scale(0.998,1)" x="-5.33">0</text></g>
<line x1="73.3" x2="78.5" y1="359.5" y2="359.5" stroke="#000" stroke-width="1"/>
<g fill="#000" font-size="19.14" stroke="#000" stroke-width="0.25"><text transform="translate(62.58,366.12) scale(0.939,1)" x="-5.31">5</text></g>
<line x1="73.3" x2="78.5" y1="302.5" y2="302.5" stroke="#000" stroke-width="1"/>
<g fill="#000" font-size="19.14" stroke="#000" stroke-width="0.25"><text transform="translate(51.33,309.25) scale(0.949,1)" x="-5.57">1</text><text transform="translate(62.64,309.25) scale(0.998,1)" x="-5.33">0</text></g>
<line x1="73.3" x2="78.5" y1="245.5" y2="245.5" stroke="#000" stroke-width="1"/>
<g fill="#000" font-size="19.14" stroke="#000" stroke-width="0.25"><text transform="translate(51.33,252.38) scale(0.949,1)" x="-5.57">1</text><text transform="translate(62.58,252.38) scale(0.939,1)" x="-5.31">5</text></g>
<line x1="73.3" x2="78.5" y1="188.5" y2="188.5" stroke="#000" stroke-width="1"/>
<g fill="#000" font-size="19.14" stroke="#000" stroke-width="0.25"><text transform="translate(50.93,195.50) scale(0.965,1)" x="-5.31">2</text><text transform="translate(62.64,195.50) scale(0.998,1)" x="-5.33">0</text></g>
<line x1="73.3" x2="78.5" y1="131.5" y2="131.5" stroke="#000" stroke-width="1"/>
<g fill="#000" font-size="19.14" stroke="#000" stroke-width="0.25"><text transform="translate(50.93,138.62) scale(0.965,1)" x="-5.31">2</text><text transform="translate(62.58,138.62) scale(0.939,1)" x="-5.31">5</text></g>
<line x1="73.3" x2="78.5" y1="75.5" y2="75.5" stroke="#000" stroke-width="1"/>
<g fill="#000" font-size="19.14" stroke="#000" stroke-width="0.25"><text transform="translate(51.13,81.75) scale(0.959,1)" x="-5.26">3</text><text transform="translate(62.64,81.75) scale(0.998,1)" x="-5.33">0</text></g>
<line x1="78.5" x2="78.5" y1="445.5" y2="450.7" stroke="#000" stroke-width="1"/>
<g fill="#000" font-size="17.66" stroke="#000" stroke-width="0.25"><text transform="translate(68.37,468.50) scale(0.818,1)" x="-6.25">E</text><text transform="translate(78.69,468.50) scale(1.021,1)" x="-4.95">n</text><text transform="translate(89.07,468.50) scale(1.019,1)" x="-4.90">e</text></g>
<line x1="163.5" x2="163.5" y1="445.5" y2="450.7" stroke="#000" stroke-width="1"/>
<g fill="#000" font-size="17.66" stroke="#000" stroke-width="0.25"><text transform="translate(153.87,468.50) scale(0.813,1)" x="-5.76">F</text><text transform="translate(162.57,468.50) scale(1.019,1)" x="-4.90">e</text><text transform="translate(173.26,468.50) scale(1.028,1)" x="-5.12">b</text></g>
<line x1="240.5" x2="240.5" y1="445.5" y2="450.7" stroke="#000" stroke-width="1"/>
<g fill="#000" font-size="17.66" stroke="#000" stroke-width="0.25"><text transform="translate(231.96,468.50) scale(0.944,1)" x="-7.35">M</text><text transform="translate(244.01,468.50) scale(0.848,1)" x="-5.30">a</text><text transform="translate(253.56,468.50) scale(1.205,1)" x="-3.38">r</text></g>
<line x1="325.5" x2="325.5" y1="445.5" y2="450.7" stroke="#000" stroke-width="1"/>
<g fill="#000" font-size="17.66" stroke="#000" stroke-width="0.25"><text transform="translate(316.77,468.50) scale(0.951,1)" x="-5.90">A</text><text transform="translate(328.07,468.50) scale(1.028,1)" x="-5.12">b</text><text transform="translate(337.25,468.50) scale(1.205,1)" x="-3.38">r</text></g>
<line x1="407.5" x2="407.5" y1="445.5" y2="450.7" stroke="#000" stroke-width="1"/>
<g fill="#000" font-size="17.66" stroke="#000" stroke-width="0.25"><text transform="translate(397.46,468.50) scale(0.944,1)" x="-7.35">M</text><text transform="translate(409.51,468.50) scale(0.848,1)" x="-5.30">a</text><text transform="translate(419.81,468.50) scale(1.015,1)" x="-4.42">y</text></g>
<line x1="492.5" x2="492.5" y1="445.5" y2="450.7" stroke="#000" stroke-width="1"/>
<g fill="#000" font-size="17.66" stroke="#000" stroke-width="0.25"><text transform="translate(480.69,468.50) scale(0.800,1)" x="-3.89">J</text><text transform="translate(489.62,468.50) scale(1.016,1)" x="-4.90">u</text><text transform="translate(500.29,468.50) scale(1.021,1)" x="-4.95">n</text></g>
<line x1="574.5" x2="574.5" y1="445.5" y2="450.7" stroke="#000" stroke-width="1"/>
<g fill="#000" font-size="17.66" stroke="#000" stroke-width="0.25"><text transform="translate(565.65,468.50) scale(0.800,1)" x="-3.89">J</text><text transform="translate(574.59,468.50) scale(1.016,1)" x="-4.90">u</text><text transform="translate(582.26,468.50) scale(1.000,1)" x="-1.97">l</text></g>
<line x1="659.5" x2="659.5" y1="445.5" y2="450.7" stroke="#000" stroke-width="1"/>
<g fill="#000" font-size="17.66" stroke="#000" stroke-width="0.25"><text transform="translate(649.10,468.50) scale(0.951,1)" x="-5.90">A</text><text transform="translate(659.81,468.50) scale(1.028,1)" x="-4.72">g</text><text transform="translate(670.50,468.50) scale(1.004,1)" x="-4.92">o</text></g>
<line x1="744.5" x2="744.5" y1="445.5" y2="450.7" stroke="#000" stroke-width="1"/>
<g fill="#000" font-size="17.66" stroke="#000" stroke-width="0.25"><text transform="translate(734.17,468.50) scale(0.842,1)" x="-5.90">S</text><text transform="translate(744.52,468.50) scale(1.019,1)" x="-4.90">e</text><text transform="translate(755.21,468.50) scale(1.028,1)" x="-5.12">p</text></g>
<line x1="826.5" x2="826.5" y1="445.5" y2="450.7" stroke="#000" stroke-width="1"/>
<g fill="#000" font-size="17.66" stroke="#000" stroke-width="0.25"><text transform="translate(818.63,468.50) scale(0.933,1)" x="-6.87">O</text><text transform="translate(829.73,468.50) scale(0.949,1)" x="-4.55">c</text><text transform="translate(837.67,468.50) scale(1.250,1)" x="-2.52">t</text></g>
<line x1="911.5" x2="911.5" y1="445.5" y2="450.7" stroke="#000" stroke-width="1"/>
<g fill="#000" font-size="17.66" stroke="#000" stroke-width="0.25"><text transform="translate(901.46,468.50) scale(0.935,1)" x="-6.38">N</text><text transform="translate(912.81,468.50) scale(1.004,1)" x="-4.92">o</text><text transform="translate(922.84,468.50) scale(1.015,1)" x="-4.42">v</text></g>
<line x1="993.5" x2="993.5" y1="445.5" y2="450.7" stroke="#000" stroke-width="1"/>
<g fill="#000" font-size="17.66" stroke="#000" stroke-width="0.25"><text transform="translate(986.91,468.50) scale(0.976,1)" x="-6.69">D</text><text transform="translate(995.35,468.50) scale(1.000,1)" x="-1.97">i</text><text transform="translate(1002.17,468.50) scale(0.949,1)" x="-4.55">c</text></g>
<g fill="#286ca8" font-size="26.49" stroke="#286ca8" stroke-width="0.25"><text transform="translate(357.04,31.90) scale(1.031,1)" x="-8.08">T</text><text transform="translate(368.13,31.90) scale(1.019,1)" x="-7.35">e</text><text transform="translate(388.04,31.90) scale(1.079,1)" x="-11.06">m</text><text transform="translate(408.52,31.90) scale(1.028,1)" x="-7.68">p</text><text transform="translate(423.73,31.90) scale(1.019,1)" x="-7.35">e</text><text transform="translate(437.68,31.90) scale(1.205,1)" x="-5.07">r</text><text transform="translate(448.95,31.90) scale(0.848,1)" x="-7.95">a</text><text transform="translate(461.93,31.90) scale(1.250,1)" x="-3.77">t</text><text transform="translate(474.64,31.90) scale(1.016,1)" x="-7.35">u</text><text transform="translate(488.92,31.90) scale(1.205,1)" x="-5.07">r</text><text transform="translate(500.20,31.90) scale(0.848,1)" x="-7.95">a</text><text transform="translate(526.97,31.90) scale(0.944,1)" x="-11.03">M</text><text transform="translate(545.48,31.90) scale(1.019,1)" x="-7.35">e</text><text transform="translate(560.64,31.90) scale(1.028,1)" x="-7.09">d</text><text transform="translate(572.51,31.90) scale(1.000,1)" x="-2.95">i</text><text transform="translate(583.23,31.90) scale(0.848,1)" x="-7.95">a</text><text transform="translate(606.72,31.90) scale(1.028,1)" x="-7.09">d</text><text transform="translate(618.59,31.90) scale(1.000,1)" x="-2.95">i</text><text transform="translate(629.32,31.90) scale(0.848,1)" x="-7.95">a</text><text transform="translate(643.64,31.90) scale(1.205,1)" x="-5.07">r</text><text transform="translate(651.13,31.90) scale(1.000,1)" x="-2.95">i</text><text transform="translate(661.86,31.90) scale(0.848,1)" x="-7.95">a</text><text transform="translate(682.35,31.90) scale(1.021,1)" x="-4.44">-</text><text transform="translate(703.57,31.90) scale(0.877,1)" x="-9.74">C</text><text transform="translate(719.55,31.90) scale(0.848,1)" x="-7.95">a</text><text transform="translate(735.97,31.90) scale(1.028,1)" x="-7.68">b</text><text transform="translate(749.74,31.90) scale(1.205,1)" x="-5.07">r</text><text transform="translate(761.02,31.90) scale(0.848,1)" x="-7.95">a</text><text transform="translate(772.56,31.90) scale(1.000,1)" x="-2.95">l</text><text transform="translate(783.73,31.90) scale(1.019,1)" x="-7.35">e</text><text transform="translate(797.98,31.90) scale(0.901,1)" x="-6.52">s</text></g>
<g fill="#000" font-size="17.66" stroke="#000" stroke-width="0.25"><text transform="translate(52.77,54.80) scale(1.045,1)" x="-3.53">°</text><text transform="translate(62.77,54.80) scale(0.877,1)" x="-6.49">C</text></g>
<g fill="#000" font-size="17.66" stroke="#000" stroke-width="0.25"><text transform="translate(88.41,54.80) scale(0.927,1)" x="-6.38">Ú</text><text transform="translate(96.84,54.80) scale(1.000,1)" x="-1.97">l</text><text transform="translate(102.43,54.80) scale(1.250,1)" x="-2.52">t</text><text transform="translate(108.00,54.80) scale(1.000,1)" x="-1.97">i</text><text transform="translate(118.47,54.80) scale(1.079,1)" x="-7.37">m</text><text transform="translate(131.40,54.80) scale(0.848,1)" x="-5.30">a</text><text transform="translate(145.35,54.80) scale(1.250,1)" x="-2.52">t</text><text transform="translate(153.74,54.80) scale(1.019,1)" x="-4.90">e</text><text transform="translate(167.02,54.80) scale(1.079,1)" x="-7.37">m</text><text transform="translate(180.67,54.80) scale(1.028,1)" x="-5.12">p</text><text transform="translate(188.48,54.80) scale(1.000,1)" x="-2.45">:</text><text transform="translate(201.67,54.80) scale(0.965,1)" x="-4.90">2</text><text transform="translate(212.48,54.80) scale(0.998,1)" x="-4.92">0</text><text transform="translate(222.88,54.80) scale(0.965,1)" x="-4.90">2</text><text transform="translate(233.76,54.80) scale(1.025,1)" x="-4.97">6</text><text transform="translate(242.01,54.80) scale(1.021,1)" x="-2.96">-</text><text transform="translate(250.32,54.80) scale(0.998,1)" x="-4.92">0</text><text transform="translate(260.90,54.80) scale(0.959,1)" x="-4.86">3</text><text transform="translate(269.24,54.80) scale(1.021,1)" x="-2.96">-</text><text transform="translate(277.34,54.80) scale(0.965,1)" x="-4.90">2</text><text transform="translate(288.21,54.80) scale(1.025,1)" x="-4.97">6</text></g>
<rect x="185.7" y="476.5" width="782" height="60" rx="3.5" fill="#fff" fill-opacity="0.8" stroke="#cccccc" stroke-width="1.1"/>
<line x1="192.2" x2="225.2" y1="491.4" y2="491.4" stroke="#ff0000" stroke-width="0.85" stroke-dasharray="2.57,1.11"/>
<line x1="370.2" x2="403.6" y1="491.4" y2="491.4" stroke="#add8e6" stroke-width="1.39" stroke-dasharray="5.14,2.22"/>
<line x1="537.0" x2="572.8" y1="491.4" y2="491.4" stroke="#000" stroke-width="2.9"/>
<line x1="799.0" x2="833.0" y1="491.4" y2="491.4" stroke="#000" stroke-width="1.2"/>
<g fill="#000" font-size="17.66" stroke="#000" stroke-width="0.25"><text transform="translate(243.56,496.50) scale(0.837,1)" x="-6.16">P</text><text transform="translate(252.61,496.50) scale(1.019,1)" x="-4.90">e</text><text transform="translate(261.90,496.50) scale(1.205,1)" x="-3.38">r</text><text transform="translate(268.72,496.50) scale(0.949,1)" x="-4.55">c</text><text transform="translate(278.51,496.50) scale(1.019,1)" x="-4.90">e</text><text transform="translate(288.96,496.50) scale(1.021,1)" x="-4.95">n</text><text transform="translate(297.48,496.50) scale(1.250,1)" x="-2.52">t</text><text transform="translate(303.06,496.50) scale(1.000,1)" x="-1.97">i</text><text transform="translate(307.69,496.50) scale(1.000,1)" x="-1.97">l</text><text transform="translate(320.52,496.50) scale(1.025,1)" x="-4.92">9</text><text transform="translate(331.12,496.50) scale(0.939,1)" x="-4.90">5</text></g>
<g fill="#000" font-size="17.66" stroke="#000" stroke-width="0.25"><text transform="translate(421.66,496.50) scale(0.837,1)" x="-6.16">P</text><text transform="translate(430.71,496.50) scale(1.019,1)" x="-4.90">e</text><text transform="translate(440.00,496.50) scale(1.205,1)" x="-3.38">r</text><text transform="translate(446.82,496.50) scale(0.949,1)" x="-4.55">c</text><text transform="translate(456.61,496.50) scale(1.019,1)" x="-4.90">e</text><text transform="translate(467.06,496.50) scale(1.021,1)" x="-4.95">n</text><text transform="translate(475.58,496.50) scale(1.250,1)" x="-2.52">t</text><text transform="translate(481.16,496.50) scale(1.000,1)" x="-1.97">i</text><text transform="translate(485.79,496.50) scale(1.000,1)" x="-1.97">l</text><text transform="translate(498.62,496.50) scale(0.939,1)" x="-4.90">5</text></g>
<g fill="#000" font-size="17.66" stroke="#000" stroke-width="0.25"><text transform="translate(589.41,496.50) scale(1.031,1)" x="-5.39">T</text><text transform="translate(596.80,496.50) scale(1.019,1)" x="-4.90">e</text><text transform="translate(610.07,496.50) scale(1.079,1)" x="-7.37">m</text><text transform="translate(623.73,496.50) scale(1.028,1)" x="-5.12">p</text><text transform="translate(633.87,496.50) scale(1.019,1)" x="-4.90">e</text><text transform="translate(643.17,496.50) scale(1.205,1)" x="-3.38">r</text><text transform="translate(650.69,496.50) scale(0.848,1)" x="-5.30">a</text><text transform="translate(659.34,496.50) scale(1.250,1)" x="-2.52">t</text><text transform="translate(667.82,496.50) scale(1.016,1)" x="-4.90">u</text><text transform="translate(677.34,496.50) scale(1.205,1)" x="-3.38">r</text><text transform="translate(684.86,496.50) scale(0.848,1)" x="-5.30">a</text><text transform="translate(702.71,496.50) scale(0.944,1)" x="-7.35">M</text><text transform="translate(715.05,496.50) scale(1.019,1)" x="-4.90">e</text><text transform="translate(725.16,496.50) scale(1.028,1)" x="-4.72">d</text><text transform="translate(733.08,496.50) scale(1.000,1)" x="-1.97">i</text><text transform="translate(740.23,496.50) scale(0.848,1)" x="-5.30">a</text><text transform="translate(750.92,496.50) scale(1.021,1)" x="-4.95">n</text><text transform="translate(761.01,496.50) scale(0.848,1)" x="-5.30">a</text></g>
<g fill="#000" font-size="17.66" stroke="#000" stroke-width="0.25"><text transform="translate(851.31,496.50) scale(1.031,1)" x="-5.39">T</text><text transform="translate(857.05,496.50) scale(1.000,1)" x="-2.45">.</text><text transform="translate(872.19,496.50) scale(0.944,1)" x="-7.35">M</text><text transform="translate(884.53,496.50) scale(1.019,1)" x="-4.90">e</text><text transform="translate(894.64,496.50) scale(1.028,1)" x="-4.72">d</text><text transform="translate(902.56,496.50) scale(1.000,1)" x="-1.97">i</text><text transform="translate(909.71,496.50) scale(0.848,1)" x="-5.30">a</text><text transform="translate(925.46,496.50) scale(0.965,1)" x="-4.90">2</text><text transform="translate(936.27,496.50) scale(0.998,1)" x="-4.92">0</text><text transform="translate(946.67,496.50) scale(0.965,1)" x="-4.90">2</text><text transform="translate(957.55,496.50) scale(1.025,1)" x="-4.97">6</text></g>
</svg>
</body></html>
